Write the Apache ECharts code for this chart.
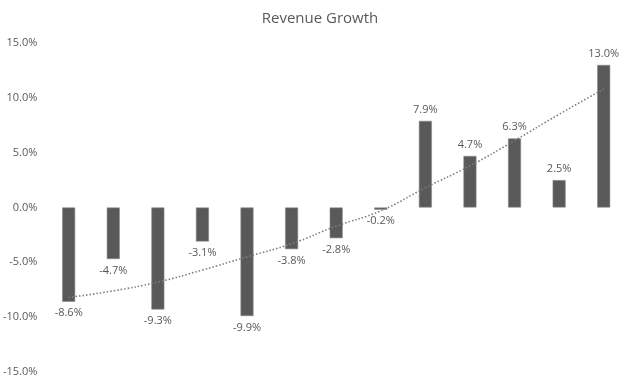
<!DOCTYPE html>
<html>
<head>
<meta charset="utf-8">
<script src="https://cdn.jsdelivr.net/npm/echarts@6/dist/echarts.min.js"></script>
<style>html,body{margin:0;padding:0;background:#fff}#c{width:640px;height:384px}</style>
</head>
<body>
<div id="c"></div>
<script>
const categories = ['1','2','3','4','5','6','7','8','9','10','11','12','13'];
const growth = [-8.6, -4.7, -9.3, -3.1, -9.9, -3.8, -2.8, -0.2, 7.9, 4.7, 6.3, 2.5, 13.0];
const trend = [-8.2, -7.6, -6.8, -5.7, -4.5, -3.3, -1.7, -0.3, 1.8, 3.8, 6.1, 8.5, 10.8];
const yTicks = { min: -15, max: 15, interval: 5 };

const chart = echarts.init(document.getElementById('c'));
const font = '"Open Sans", "Liberation Sans", sans-serif';
chart.setOption({
  animation: false,
  title: {
    text: 'Revenue Growth', left: 'center', top: 6,
    textStyle: { color: '#595959', fontSize: 15, fontWeight: 'normal', fontFamily: font }
  },
  grid: { left: 46, right: 14, top: 43, bottom: 12, containLabel: false },
  xAxis: {
    type: 'category', data: categories,
    axisLine: { show: false }, axisTick: { show: false }, axisLabel: { show: false },
    splitLine: { show: false }
  },
  yAxis: {
    type: 'value', min: yTicks.min, max: yTicks.max, interval: yTicks.interval,
    axisLine: { show: false }, axisTick: { show: false }, splitLine: { show: false },
    axisLabel: {
      color: '#595959', fontSize: 11, fontFamily: font, margin: 9,
      formatter: v => v.toFixed(1) + '%'
    }
  },
  series: [
    {
      type: 'bar', barWidth: 13,
      data: growth.map(v => ({
        value: v,
        label: { position: v < 0 ? 'bottom' : 'top' }
      })),
      itemStyle: { color: '#595959', borderColor: '#8a8a8a', borderWidth: 0.6 },
      label: {
        show: true, color: '#595959', fontSize: 11, fontFamily: font, distance: 6,
        formatter: p => p.value.toFixed(1) + '%'
      },
      z: 2
    },
    {
      type: 'line', data: trend, smooth: true, symbol: 'none',
      lineStyle: { color: '#7f7f7f', width: 1.6, type: [1.5, 2] },
      z: 3
    }
  ]
});
</script>
</body>
</html>
